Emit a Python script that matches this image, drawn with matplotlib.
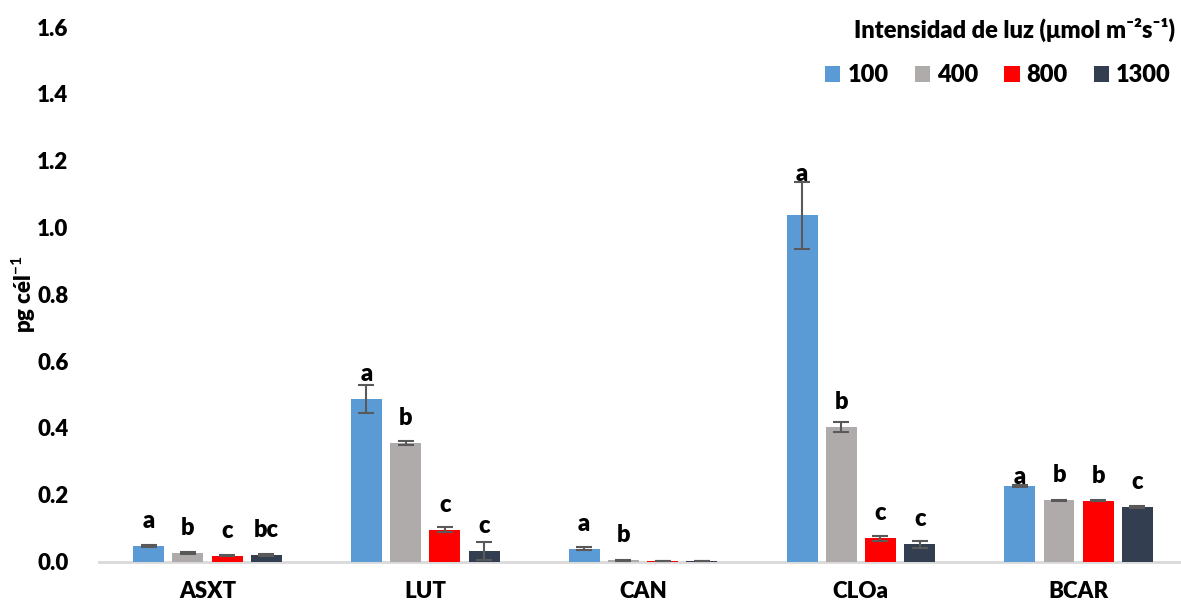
import matplotlib
matplotlib.use("Agg")
import matplotlib.pyplot as plt
from matplotlib.patches import Patch
import numpy as np

plt.rcParams["font.family"] = ["Lato", "DejaVu Sans"]
plt.rcParams["font.weight"] = "heavy"
plt.rcParams["mathtext.fontset"] = "custom"
plt.rcParams["mathtext.rm"] = "Lato:bold"
plt.rcParams["mathtext.bf"] = "Lato:bold"
plt.rcParams["mathtext.default"] = "bf"

# Pigments and light intensities
categories = ["ASXT", "LUT", "CAN", "CLOa", "BCAR"]
intensities = ["100", "400", "800", "1300"]

# Mean content (pg per cell) for each intensity, by pigment
mean_100 = [0.046, 0.487, 0.038, 1.036, 0.227]
mean_400 = [0.024, 0.354, 0.003, 0.402, 0.183]
mean_800 = [0.017, 0.095, 0.001, 0.069, 0.182]
mean_1300 = [0.020, 0.031, 0.001, 0.051, 0.162]

# Error (+/-) for each intensity, by pigment
err_100 = [0.004, 0.041, 0.004, 0.100, 0.003]
err_400 = [0.003, 0.006, 0.001, 0.015, 0.002]
err_800 = [0.002, 0.008, 0.000, 0.007, 0.002]
err_1300 = [0.003, 0.027, 0.000, 0.011, 0.003]

# Significance letters
letters_100 = ["a", "a", "a", "a", "a"]
letters_400 = ["b", "b", "b", "b", "b"]
letters_800 = ["c", "c", "", "c", "b"]
letters_1300 = ["bc", "c", "", "c", "c"]

means = [mean_100, mean_400, mean_800, mean_1300]
errs = [err_100, err_400, err_800, err_1300]
letters = [letters_100, letters_400, letters_800, letters_1300]
colors = ["#5B9BD5", "#AFABAB", "#FF0000", "#333F50"]

fig = plt.figure(figsize=(11.81, 6.01), dpi=100)
ax = fig.add_axes([99 / 1181, (601 - 561.5) / 601, 1 - 99 / 1181, (561.5 - 27) / 601])

x = np.arange(len(categories))
pitch = 0.18
width = 0.142
label_offset = 0.054

for i, (m, e, lab, c) in enumerate(zip(means, errs, letters, colors)):
    xi = x + (i - 1.5) * pitch
    ax.bar(xi, m, width=width, color=c, zorder=2)
    ax.errorbar(xi, m, yerr=e, fmt="none", ecolor="#595959", elinewidth=1.5,
                capsize=5.5, capthick=1.5, zorder=3)
    for j, (xx, mm, ee, t) in enumerate(zip(xi, m, e, lab)):
        if not t:
            continue
        y = mm + label_offset
        if mm + ee > y - 0.01:
            y = mm + ee + 0.004
        if categories[j] == "BCAR" and i == 0:
            y = mm + 0.006
        ax.text(xx, y, t, ha="center", va="baseline", fontsize=17,
                fontweight="heavy", color="black", zorder=4)

ax.set_ylim(0, 1.6)
ax.set_xlim(-0.498, 4.47)
ax.set_yticks(np.arange(0, 1.61, 0.2))
ax.set_yticklabels([f"{v:.1f}" for v in np.arange(0, 1.61, 0.2)])
ax.set_xticks(x)
ax.set_xticklabels(categories)
ax.tick_params(axis="both", length=0, labelsize=16)
ax.tick_params(axis="y", pad=22)
ax.tick_params(axis="x", pad=14)
for s in ["top", "right", "left"]:
    ax.spines[s].set_visible(False)
ax.spines["bottom"].set_color("#D9D9D9")
ax.spines["bottom"].set_linewidth(2)
ax.spines["bottom"].set_zorder(1)

ax.set_ylabel("pg cél$^{-1}$", fontsize=16, fontweight="heavy")
ax.yaxis.set_label_coords(-(99 - 38) / 1082, 0.5)

fig.text(1175 / 1181, 1 - 30 / 601,
         "Intensidad de luz (μmol m⁻²s⁻¹)",
         ha="right", va="center", fontsize=17, fontweight="heavy")

handles = [Patch(facecolor=c, edgecolor="none") for c in colors]
fig.legend(handles, intensities, loc="center right",
           bbox_to_anchor=(1171 / 1181, 1 - 75 / 601), ncol=4, frameon=False,
           prop={"size": 17, "weight": "heavy"},
           handlelength=0.65, handleheight=0.65, handletextpad=0.3,
           columnspacing=1.1, borderaxespad=0, borderpad=0)

fig.savefig("out.png", dpi=100)
